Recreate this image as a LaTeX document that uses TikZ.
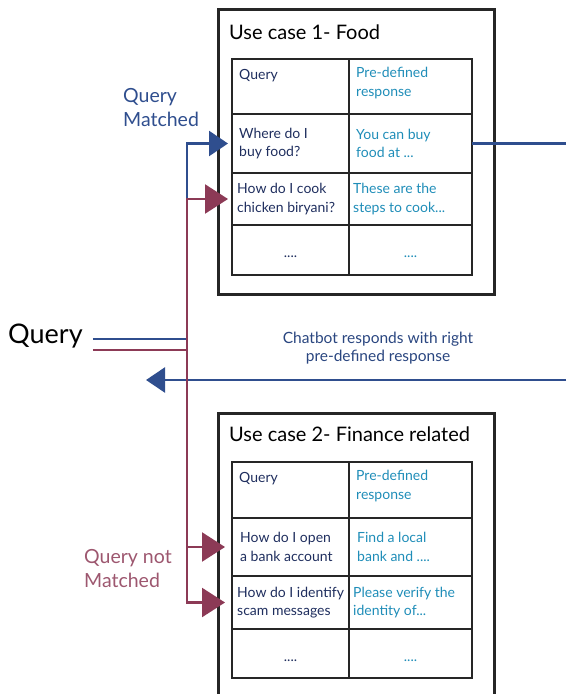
\documentclass[tikz,border=0pt]{standalone}
\usepackage{fontspec}
\setmainfont{Lato}
\usetikzlibrary{arrows.meta, positioning, calc}

\definecolor{matchblue}{HTML}{2F4E8E}
\definecolor{missred}{HTML}{8C3A56}
\definecolor{querynavy}{HTML}{1F2E5E}
\definecolor{replyteal}{HTML}{1F8DB8}

\begin{document}
\begin{tikzpicture}[x=1pt, y=-1pt,
	usecase/.style={draw=black!85, line width=3pt, rectangle, anchor=north west, inner sep=0pt, outer sep=0pt},
	cell/.style={draw=black!85, line width=1.4pt, rectangle, anchor=north west, inner sep=0pt, outer sep=0pt},
	qtext/.style={text=querynavy, font=\fontsize{14}{18.5}\selectfont, align=left, inner sep=0pt},
	rtext/.style={text=replyteal, font=\fontsize{14}{18.5}\selectfont, align=left, inner sep=0pt},
	casetitle/.style={font=\fontsize{20}{24}\selectfont, anchor=west, inner sep=0pt},
	blueline/.style={draw=matchblue, line width=2.4pt},
	redline/.style={draw=missred, line width=2.4pt},
	bluearrow/.style={blueline, -{Triangle[length=19pt, width=25pt]}},
	redarrow/.style={redline, -{Triangle[length=23pt, width=29pt]}}
]
\useasboundingbox (0,0) rectangle (566,694);

% Use case 1
\node[usecase, minimum width=276pt, minimum height=285pt] (uc1) at (218,9) {};
\node[casetitle] (t1) at (229,32) {Use case 1- Food};
\node[cell, minimum width=117pt, minimum height=55pt] (q1a) at (232,59) {};
\node[cell, minimum width=123pt, minimum height=55pt] (r1a) at (349,59) {};
\node[cell, minimum width=117pt, minimum height=59pt] (q1b) at (232,114) {};
\node[cell, minimum width=123pt, minimum height=59pt] (r1b) at (349,114) {};
\node[cell, minimum width=117pt, minimum height=52pt] (q1c) at (232,173) {};
\node[cell, minimum width=123pt, minimum height=52pt] (r1c) at (349,173) {};
\node[cell, minimum width=117pt, minimum height=50pt] (q1d) at (232,225) {};
\node[cell, minimum width=123pt, minimum height=50pt] (r1d) at (349,225) {};

\node[qtext, below right=10pt and 7pt of q1a.north west] {Query};
\node[rtext, below right=8pt and 7pt of r1a.north west] {Pre-defined\\response};
\node[qtext, right=7pt of q1b.west] {Where do I\\buy food?};
\node[rtext, right=7pt of r1b.west] {You can buy\\food at ...};
\node[qtext, right=5pt of q1c.west] {How do I cook\\chicken biryani?};
\node[rtext, right=4pt of r1c.west] {These are the\\steps to cook...};
\node[qtext, yshift=-7pt] at (q1d) {....};
\node[rtext, yshift=-7pt] at (r1d) {....};

% Use case 2
\node[usecase, minimum width=276pt, minimum height=300pt] (uc2) at (218,413) {};
\node[casetitle] (t2) at (229,434) {Use case 2- Finance related};
\node[cell, minimum width=117pt, minimum height=56pt] (q2a) at (232,462) {};
\node[cell, minimum width=123pt, minimum height=56pt] (r2a) at (349,462) {};
\node[cell, minimum width=117pt, minimum height=58pt] (q2b) at (232,518) {};
\node[cell, minimum width=123pt, minimum height=58pt] (r2b) at (349,518) {};
\node[cell, minimum width=117pt, minimum height=53pt] (q2c) at (232,576) {};
\node[cell, minimum width=123pt, minimum height=53pt] (r2c) at (349,576) {};
\node[cell, minimum width=117pt, minimum height=49pt] (q2d) at (232,629) {};
\node[cell, minimum width=123pt, minimum height=49pt] (r2d) at (349,629) {};

\node[qtext, below right=10pt and 7pt of q2a.north west] {Query};
\node[rtext, below right=8pt and 7pt of r2a.north west] {Pre-defined\\response};
\node[qtext, right=8pt of q2b.west] {How do I open\\a bank account};
\node[rtext, right=8pt of r2b.west] {Find a local\\bank and ....};
\node[qtext, right=5pt of q2c.west] {How do I identify\\scam messages};
\node[rtext, right=4pt of r2c.west] {Please verify the\\identity of...};
\node[qtext, yshift=-7pt] at (q2d) {....};
\node[rtext, yshift=-7pt] at (r2d) {....};

% Labels
\node[anchor=west, inner sep=0pt, font=\fontsize{27}{30}\selectfont] (query) at (8,336) {Query};
\node[anchor=west, inner sep=0pt, align=left, text=matchblue, font=\fontsize{19.5}{24}\selectfont] (matched) at (123,108) {Query\\Matched};
\node[anchor=west, inner sep=0pt, align=left, text=missred!85, font=\fontsize{19.5}{24}\selectfont] (notmatched) at (84,569) {Query not\\Matched};
\node[inner sep=0pt, align=center, text=matchblue!90!black, font=\fontsize{15.5}{18}\selectfont] (reply) at (378,348) {Chatbot responds with right\\pre-defined response};

% Routing
\coordinate (bus) at (187,0);
\coordinate (edge) at (566,0);
\coordinate (back) at (146,380);

\draw[bluearrow] ([shift={(10pt,-3pt)}]query.east) -| (bus |- q1b.west) -- ([xshift=-4pt]q1b.west);
\draw[blueline] (r1b.east) -- (r1b.east -| edge);
\draw[bluearrow] (edge |- back) -- (back);

\draw[redarrow] ([shift={(10pt,-14pt)}]query.east) -| (bus |- q1c.west) -- ([xshift=-4pt]q1c.west);
\draw[redarrow] (bus |- q1c.west) |- ([xshift=-7pt]q2b.west);
\draw[redarrow] (bus |- q2b.west) |- ([xshift=-7pt]q2c.west);

\end{tikzpicture}
\end{document}
